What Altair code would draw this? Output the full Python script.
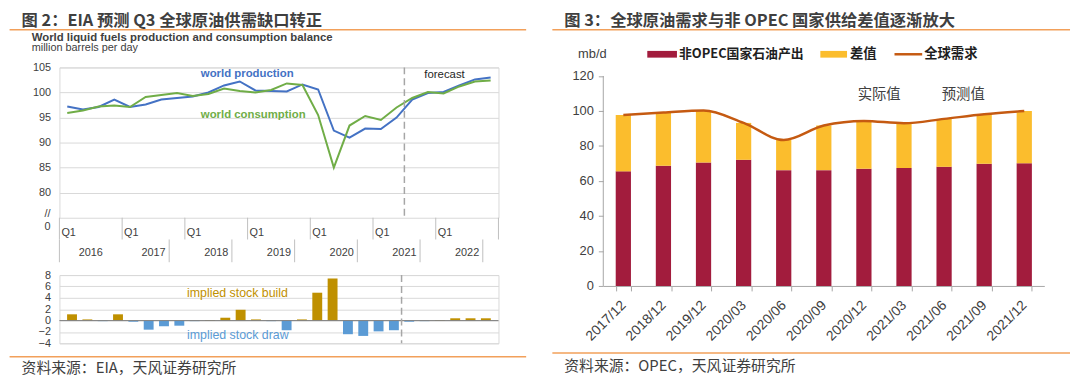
import altair as alt
import pandas as pd

FONT_CN = "Noto Sans CJK SC"
FONT_EN = "Liberation Sans"

TXT = "#404040"
GRID = "#D9D9D9"
SEP = "#BFBFBF"
BLUE = "#4472C4"
GREEN = "#70AD47"
GOLD = "#BF9000"
LBLUE = "#5B9BD5"
CRIMSON = "#A21C3D"
YELLOW = "#FBBD2D"
DEMAND = "#C55A11"
RULE = "#F2A05A"
AX = "#A6A6A6"

# ---------------- left panel data (EIA) ----------------
years = ["2016", "2017", "2018", "2019", "2020", "2021", "2022"]
quarters = [f"{y}Q{q}" for y in years for q in range(1, 5)]
production = [97.2, 96.6, 97.1, 98.6, 97.1, 97.6, 98.6, 98.9, 99.2, 100.0,
              101.4, 102.2, 100.4, 100.3, 100.2, 101.6, 100.6, 92.4, 91.0, 92.8,
              92.7, 95.0, 98.6, 99.9, 100.1, 101.4, 102.6, 103.0]
consumption = [95.9, 96.4, 97.2, 97.4, 97.1, 99.1, 99.5, 99.9, 99.3, 99.7,
               100.8, 100.3, 100.0, 100.5, 101.8, 101.5, 95.5, 85.0, 93.4, 95.3,
               94.5, 97.0, 98.9, 100.1, 99.8, 101.2, 102.2, 102.4]
stock_change = [1.1, 0.2, -0.1, 1.1, -0.2, -1.6, -1.0, -0.9, -0.1, 0.1,
                0.5, 1.9, 0.2, -0.1, -1.7, 0.2, 4.9, 7.4, -2.4, -2.7,
                -1.9, -1.7, -0.2, -0.1, 0.1, 0.4, 0.4, 0.4]
forecast_start = 22          # first forecast quarter index (2021Q3)
year_row_breaks = [0, 7, 11, 15, 19, 23, 27]

# ---------------- right panel data (OPEC) ----------------
months = ["2017/12", "2018/12", "2019/12", "2020/03", "2020/06", "2020/09",
          "2020/12", "2021/03", "2021/06", "2021/09", "2021/12"]
non_opec = [65.5, 68.7, 70.6, 72.1, 66.2, 66.2, 67.0, 67.4, 68.1, 69.8, 70.2]
demand = [97.7, 99.1, 100.3, 93.2, 83.4, 91.7, 94.3, 93.0, 95.5, 98.1, 100.0]

# ---------------- tables ----------------
qdf = pd.DataFrame({
    "quarter": quarters,
    "pos": [i + 0.5 for i in range(len(quarters))],
    "production": production,
    "consumption": consumption,
    "change": stock_change,
})
ydf = pd.DataFrame({
    "year": years,
    "start": [4 * i for i in range(len(years))],
    "mid": [4 * i + 2 for i in range(len(years))],
})
q1_breaks = pd.DataFrame({"b": [4 * i for i in range(len(years) + 1)]})
yr_breaks = pd.DataFrame({"b": year_row_breaks})
fc = pd.DataFrame({"at": [forecast_start]})
zero = pd.DataFrame({"z": [0]})
rdf = pd.DataFrame({"month": months, "non_opec": non_opec, "demand": demand})
yaxis_span = pd.DataFrame({"lo": [0], "hi": [120]})
one = pd.DataFrame({"k": [0]})


def txt(s, x, y, size=11, color=TXT, weight="normal", align="left", font=FONT_EN):
    return alt.Chart(one).mark_text(
        text=s, align=align, baseline="middle", fontSize=size,
        fontWeight=weight, color=color, font=font
    ).encode(x=alt.value(x), y=alt.value(y))


def hrule(x1, x2, y, color=RULE, w=1.5):
    return alt.Chart(one).mark_rule(color=color, strokeWidth=w).encode(
        x=alt.value(x1), x2=alt.value(x2), y=alt.value(y))


def swatch(x1, x2, y1, y2, color):
    return alt.Chart(one).mark_rect(color=color).encode(
        x=alt.value(x1), x2=alt.value(x2), y=alt.value(y1), y2=alt.value(y2))


# ---------------- left: line chart ----------------
W, H = 444, 152
xs = alt.Scale(domain=[0, 28], nice=False, zero=False)


def X(f):
    return alt.X(f"{f}:Q", scale=xs, axis=None)


y_line = alt.Scale(domain=[75, 105], nice=False, zero=False)
y_line_axis = alt.Axis(
    values=[80, 85, 90, 95, 100, 105], grid=True, gridColor=GRID,
    domain=False, ticks=False, labelFont=FONT_EN, labelFontSize=11,
    labelColor=TXT, labelPadding=9, title=None)

prod = alt.Chart(qdf).mark_line(color=BLUE, strokeWidth=2).encode(
    x=X("pos"), y=alt.Y("production:Q", scale=y_line, axis=y_line_axis))
cons = alt.Chart(qdf).mark_line(color=GREEN, strokeWidth=2).encode(
    x=X("pos"), y=alt.Y("consumption:Q", scale=y_line, axis=y_line_axis))

fc_line = alt.Chart(fc).mark_rule(color="#A6A6A6", strokeWidth=1.5, strokeDash=[7, 4]).encode(
    x=X("at"), y=alt.value(0), y2=alt.value(H))

q1_text = alt.Chart(ydf).mark_text(
    text="Q1", align="left", dx=2, baseline="middle", font=FONT_EN, fontSize=11, color=TXT
).encode(x=X("start"), y=alt.value(H + 15))
year_text = alt.Chart(ydf).mark_text(
    align="center", baseline="middle", font=FONT_EN, fontSize=11, color=TXT
).encode(x=X("mid"), y=alt.value(H + 36), text="year:N")
q1_sep = alt.Chart(q1_breaks).mark_rule(color=SEP, strokeWidth=1).encode(
    x=X("b"), y=alt.value(H), y2=alt.value(H + 22))
yr_sep = alt.Chart(yr_breaks).mark_rule(color=SEP, strokeWidth=1).encode(
    x=X("b"), y=alt.value(H + 22), y2=alt.value(H + 45))

line_chart = alt.layer(
    prod, cons, fc_line, q1_text, year_text, q1_sep, yr_sep,
    txt("//", -9, 148, align="right"),
    txt("0", -9, 161, align="right"),
    txt("world production", 143, 7, size=11.5, weight="bold", color=BLUE),
    txt("world consumption", 143, 48, size=11.5, weight="bold", color=GREEN),
    txt("forecast", 369, 8, size=11.5, color="#262626"),
    txt("图 2：EIA 预测 Q3 全球原油供需缺口转正", -38.3, -47, size=16.5,
        weight="bold", color="#3F3F3F", font=FONT_CN),
    hrule(-50.4, 472, -38),
    txt("World liquid fuels production and consumption balance", -28, -29.5,
        size=11.5, weight="bold", color=TXT),
    txt("million barrels per day", -28, -19.5, size=11, color=TXT),
).properties(width=W, height=H)

# ---------------- left: stock change bars ----------------
H2 = 69
y_bar = alt.Scale(domain=[-4, 8], nice=False, zero=False)
y_bar_axis = alt.Axis(
    values=list(range(-4, 9, 2)), grid=True, gridColor=GRID, domain=False,
    ticks=False, labelFont=FONT_EN, labelFontSize=11, labelColor=TXT,
    labelPadding=9, title=None)
bars = alt.Chart(qdf).mark_bar(size=10).encode(
    x=X("pos"),
    y=alt.Y("change:Q", scale=y_bar, axis=y_bar_axis),
    color=alt.condition("datum.change >= 0", alt.value(GOLD), alt.value(LBLUE)),
)
zero_line = alt.Chart(zero).mark_rule(color="#808080", strokeWidth=1).encode(
    y=alt.Y("z:Q", scale=y_bar, axis=y_bar_axis))
fc_line2 = alt.Chart(fc).mark_rule(color="#A6A6A6", strokeWidth=1.5, strokeDash=[7, 4]).encode(
    x=X("at"), y=alt.value(0), y2=alt.value(H2))

bar_chart = alt.layer(
    bars, zero_line, fc_line2,
    txt("implied stock  build", 129, 18.5, size=12.5, color=GOLD),
    txt("implied stock draw", 129, 61, size=12.5, color=LBLUE),
    hrule(-50.4, 472, 82.5),
    txt("资料来源：EIA，天风证券研究所", -38.3, 94.5, size=15, color=TXT, font=FONT_CN),
).properties(width=W, height=H2)

left = alt.vconcat(line_chart, bar_chart, spacing=5)

# ---------------- right: OPEC chart ----------------
W3, H3 = 446, 221
xband = alt.Scale(paddingInner=0.62, paddingOuter=0.31)
x_axis_r = alt.Axis(
    labelAngle=-45, labelAlign="right", labelBaseline="middle", tickBand="extent",
    tickSize=5, tickColor=AX, domainColor=AX, labelFont=FONT_EN, labelFontSize=14,
    labelColor=TXT, labelPadding=12, title=None)
xr = alt.X("month:N", sort=months, scale=xband, axis=x_axis_r)
yr = alt.Scale(domain=[0, 124.9], nice=False, zero=True)
y_axis_r = alt.Axis(
    values=list(range(0, 121, 20)), grid=False, domain=False, tickSize=5,
    tickColor=AX, labelFont=FONT_EN, labelFontSize=13, labelColor=TXT,
    labelPadding=5, title=None)

red = alt.Chart(rdf).mark_bar(color=CRIMSON).encode(
    x=xr, y=alt.Y("non_opec:Q", scale=yr, axis=y_axis_r))
gap = alt.Chart(rdf).mark_bar(color=YELLOW).encode(
    x=xr, y=alt.Y("non_opec:Q", scale=yr, axis=y_axis_r), y2="demand:Q")
dline = alt.Chart(rdf).mark_line(color=DEMAND, strokeWidth=2.5, interpolate="monotone").encode(
    x=xr, y=alt.Y("demand:Q", scale=yr, axis=y_axis_r))
y_domain_line = alt.Chart(yaxis_span).mark_rule(color=AX, strokeWidth=1).encode(
    x=alt.value(0), y=alt.Y("lo:Q", scale=yr, axis=y_axis_r), y2="hi:Q")

right = alt.layer(
    red, gap, dline, y_domain_line,
    txt("实际值", 279, 28, size=14.5, color=TXT, align="center", font=FONT_CN),
    txt("预测值", 364, 28, size=14.5, color=TXT, align="center", font=FONT_CN),
    txt("mb/d", -25.5, -13.3, size=13, color=TXT, font=FONT_EN),
    swatch(44.5, 74.5, -16.7, -9.9, CRIMSON),
    txt("非OPEC国家石油产出", 76.5, -13.3, size=13, weight="bold", color="#1F1F1F", font=FONT_CN),
    swatch(219.5, 246.5, -16.7, -9.9, YELLOW),
    txt("差值", 249.5, -13.3, size=13.5, weight="bold", color="#1F1F1F", font=FONT_CN),
    hrule(294.5, 322.5, -13.3, color=DEMAND, w=2.5),
    txt("全球需求", 324.5, -13.3, size=13.5, weight="bold", color="#1F1F1F", font=FONT_CN),
    txt("图 3：全球原油需求与非 OPEC 国家供给差值逐渐放大", -39.5, -47, size=16.5,
        weight="bold", color="#3F3F3F", font=FONT_CN),
    hrule(-51.5, 472, -38),
    hrule(-51.5, 472, 288.7),
    txt("资料来源：OPEC，天风证券研究所", -39.5, 301.5, size=15, color=TXT, font=FONT_CN),
).properties(width=W3, height=H3, view=alt.ViewBackground(stroke="transparent"))

chart = alt.hconcat(left, right, spacing=23).properties(
    padding={"left": 0, "top": 2, "right": 0, "bottom": 0},
    background="white",
).configure_view(stroke=GRID, strokeWidth=1)

chart.save("out.html", embed_options={"renderer": "svg", "actions": False})
